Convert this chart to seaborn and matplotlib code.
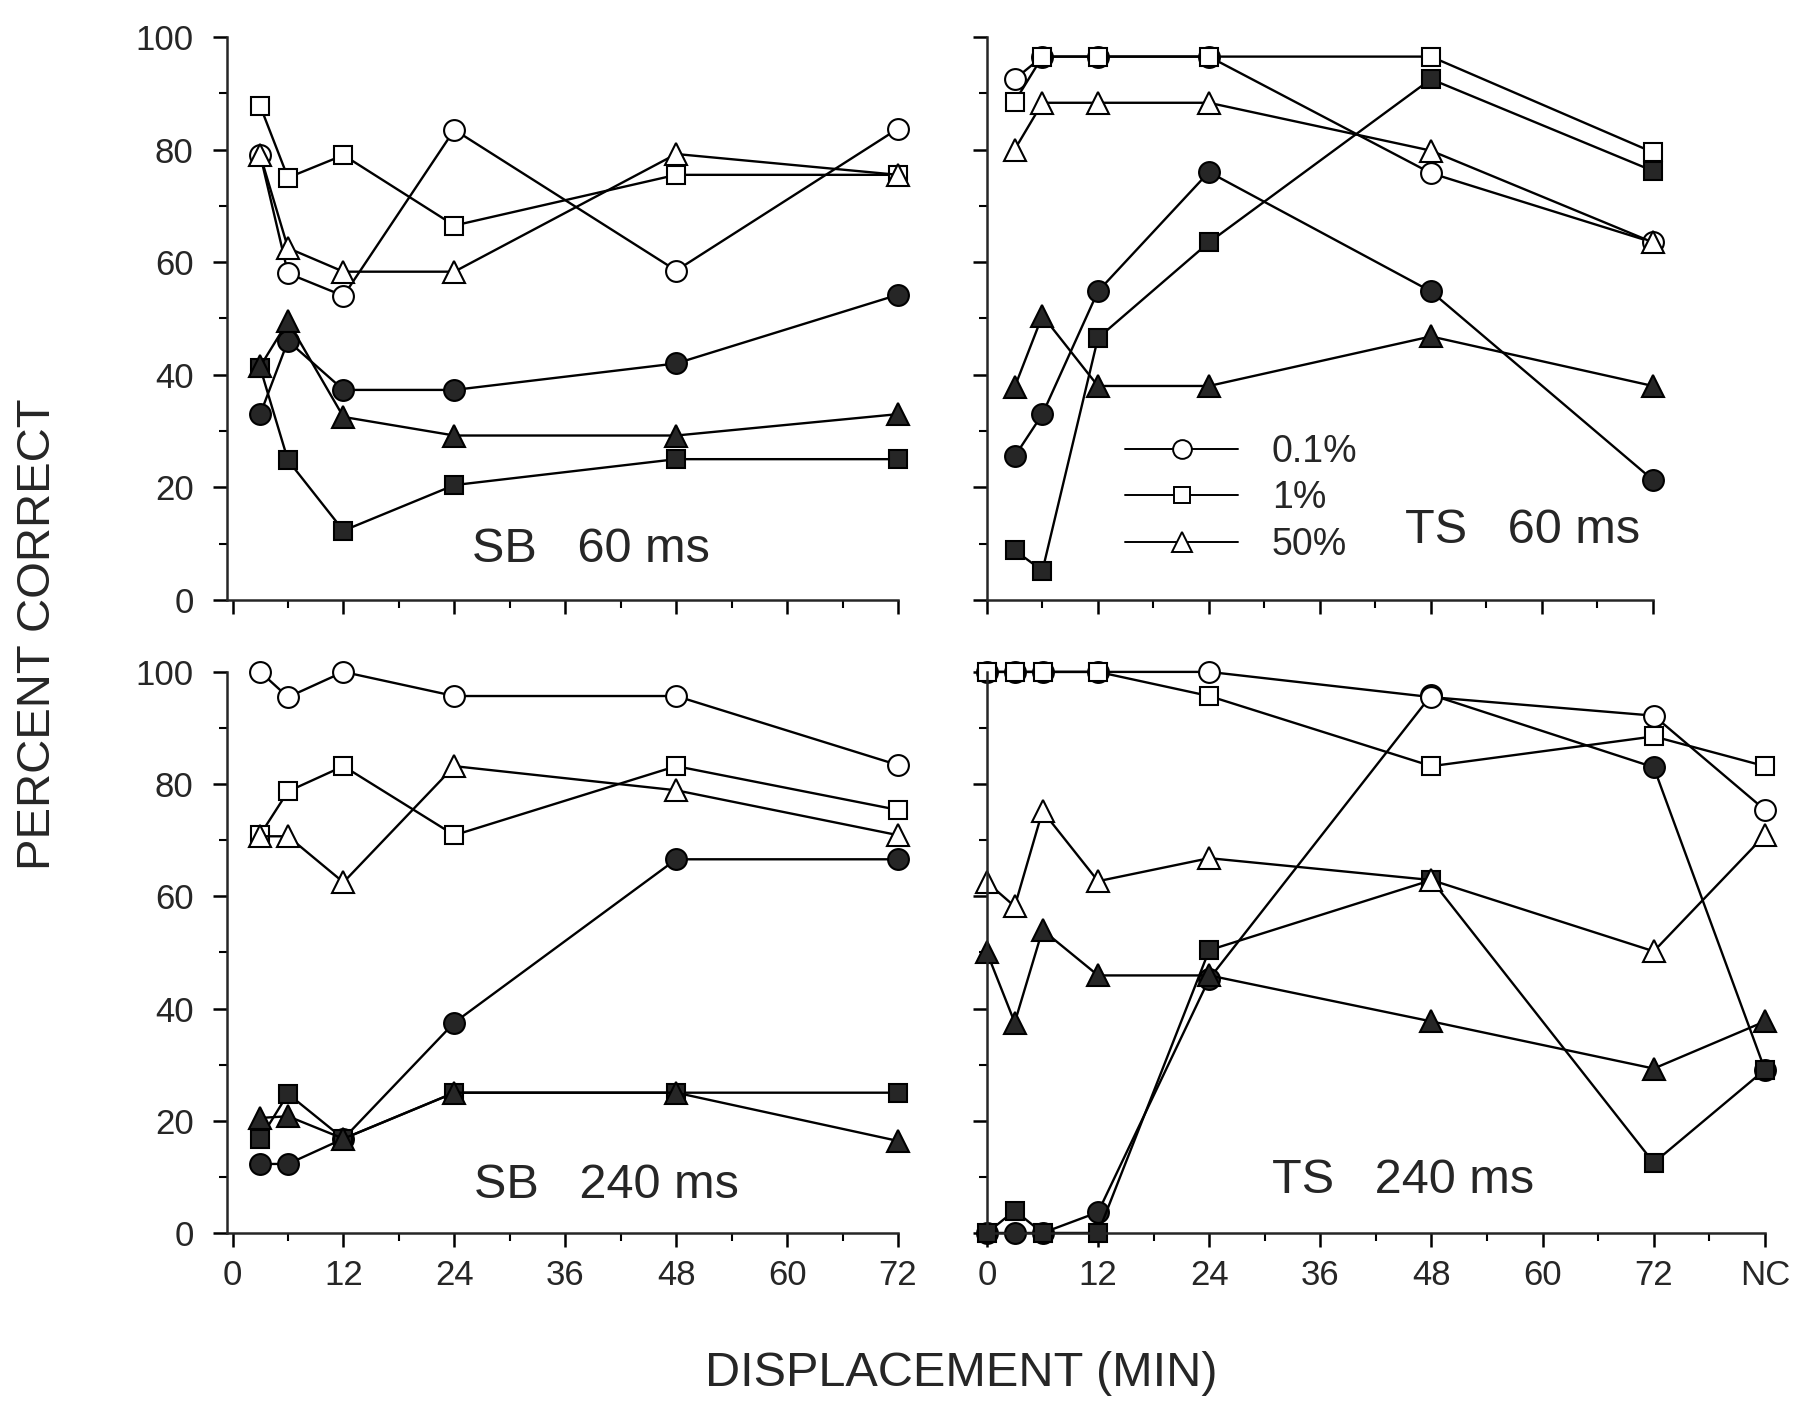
import matplotlib
matplotlib.use('Agg')
import matplotlib.pyplot as plt
import seaborn as sns
from matplotlib.ticker import MultipleLocator, FixedLocator
from matplotlib.lines import Line2D

sns.set_style('ticks')
plt.rcParams['font.family'] = ['Liberation Sans', 'DejaVu Sans']

# ---- data (percent correct) ----
x_sb = [3, 6, 12, 24, 48, 72]
x_ts60 = [3, 6, 12, 24, 48, 72]
x_ts240 = [0, 3, 6, 12, 24, 48, 72, 84]   # 84 = NC

# SB 60 ms
sb60_open_01 = [79, 58, 54, 83.5, 58.5, 83.7]
sb60_open_1 = [87.7, 75, 79, 66.5, 75.5, 75.5]
sb60_open_50 = [79, 62.5, 58.3, 58.3, 79.2, 75.5]
sb60_fill_01 = [33, 46, 37.3, 37.3, 42, 54.2]
sb60_fill_1 = [41.2, 24.8, 12.3, 20.4, 25, 25]
sb60_fill_50 = [41.5, 49.5, 32.5, 29.2, 29.2, 33]

# TS 60 ms
ts60_open_01 = [92.5, 96.5, 96.5, 96.5, 75.8, 63.5]
ts60_open_1 = [88.5, 96.5, 96.5, 96.5, 96.5, 79.5]
ts60_open_50 = [80, 88.3, 88.3, 88.3, 79.8, 63.5]
ts60_fill_01 = [25.5, 33, 54.8, 76, 54.8, 21.3]
ts60_fill_1 = [8.8, 5.2, 46.5, 63.5, 92.5, 76.2]
ts60_fill_50 = [37.8, 50.5, 38, 38, 46.8, 38]

# SB 240 ms
sb240_open_01 = [100, 95.5, 100, 95.7, 95.7, 83.4]
sb240_open_1 = [71, 78.7, 83.2, 70.9, 83.2, 75.4]
sb240_open_50 = [70.7, 70.7, 62.5, 83.2, 78.9, 70.9]
sb240_fill_01 = [12.3, 12.3, 16.8, 37.5, 66.6, 66.6]
sb240_fill_1 = [16.8, 24.8, 16.8, 25, 25, 25]
sb240_fill_50 = [20.5, 20.8, 16.8, 25, 25, 16.4]

# TS 240 ms
ts240_open_01 = [100, 100, 100, 100, 100, 95.5, 92.2, 75.4]
ts240_open_1 = [100, 100, 100, 100, 95.7, 83.2, 88.5, 83.2]
ts240_open_50 = [62.5, 58.2, 75.2, 62.7, 66.8, 62.9, 50.2, 70.9]
ts240_fill_01 = [0, 0, 0, 3.7, 45.3, 95.9, 83, 29.1]
ts240_fill_1 = [0, 4, 0, 0, 50.4, 62.9, 12.5, 29.1]
ts240_fill_50 = [50, 37.5, 54, 45.9, 45.9, 37.7, 29.3, 37.7]

legend_labels = ['0.1%', '1%', '50%']
y_ticks = [0, 20, 40, 60, 80, 100]
x_ticks_sb = [0, 12, 24, 36, 48, 60, 72]
x_ticks_ts = [0, 12, 24, 36, 48, 60, 72, 84]
x_labels_ts = ['0', '12', '24', '36', '48', '60', '72', 'NC']

MS = {'o': 15, 's': 12.5, '^': 16}
DARK = '#262626'


def draw_series(ax, x, y, marker, filled):
    sns.lineplot(x=x, y=y, ax=ax, color='black', lw=1.7, sort=False,
                 marker=marker, markersize=MS[marker],
                 markerfacecolor=DARK if filled else 'white',
                 markeredgecolor='black', markeredgewidth=1.5,
                 clip_on=False, legend=False, errorbar=None)


def draw_panel(ax, x, fills, opens):
    for y, m in zip(fills, ['o', 's', '^']):
        draw_series(ax, x, y, m, True)
    for y, m in zip(opens, ['o', 's', '^']):
        draw_series(ax, x, y, m, False)


def style_axes(ax, xmin, xmax, ylabels, xticks=None, xlabels=None):
    ax.set_xlim(xmin, xmax)
    ax.set_ylim(0, 100)
    sns.despine(ax=ax)
    for s in ['left', 'bottom']:
        ax.spines[s].set_linewidth(1.8)
    ax.yaxis.set_major_locator(FixedLocator(y_ticks))
    ax.yaxis.set_minor_locator(MultipleLocator(10))
    ax.xaxis.set_minor_locator(MultipleLocator(6))
    if xticks is not None:
        ax.set_xticks(xticks)
        ax.set_xticklabels(xlabels if xlabels else [str(t) for t in xticks])
    else:
        ax.xaxis.set_major_locator(MultipleLocator(12))
        ax.set_xticklabels([])
    if ylabels:
        ax.set_yticklabels([str(t) for t in y_ticks])
    else:
        ax.set_yticklabels([])
    ax.tick_params(axis='both', which='major', direction='out', length=10,
                   width=1.8, labelsize=25, color='black')
    ax.tick_params(axis='both', which='minor', direction='out', length=6,
                   width=1.5, color='black')
    ax.tick_params(axis='y', which='major', pad=14)
    ax.tick_params(axis='x', which='major', pad=9)
    ax.set_xlabel('')
    ax.set_ylabel('')


fig = plt.figure(figsize=(18, 14.03), dpi=100)
ax_sb60 = fig.add_axes([0.1261, 0.5724, 0.3728, 0.4013])
ax_ts60 = fig.add_axes([0.5483, 0.5724, 0.3700, 0.4013])
ax_sb240 = fig.add_axes([0.1261, 0.1212, 0.3728, 0.3999])
ax_ts240 = fig.add_axes([0.5483, 0.1212, 0.4322, 0.3999])

draw_panel(ax_sb60, x_sb, [sb60_fill_01, sb60_fill_1, sb60_fill_50],
           [sb60_open_01, sb60_open_1, sb60_open_50])
draw_panel(ax_ts60, x_ts60, [ts60_fill_01, ts60_fill_1, ts60_fill_50],
           [ts60_open_01, ts60_open_1, ts60_open_50])
draw_panel(ax_sb240, x_sb, [sb240_fill_01, sb240_fill_1, sb240_fill_50],
           [sb240_open_01, sb240_open_1, sb240_open_50])
draw_panel(ax_ts240, x_ts240, [ts240_fill_01, ts240_fill_1, ts240_fill_50],
           [ts240_open_01, ts240_open_1, ts240_open_50])

style_axes(ax_sb60, -0.6, 72, True)
style_axes(ax_ts60, 0, 72, False)
style_axes(ax_sb240, -0.6, 72, True, x_ticks_sb)
style_axes(ax_ts240, 0, 84, False, x_ticks_ts, x_labels_ts)

# panel labels
ax_sb60.text(38.8, 9, 'SB   60 ms', fontsize=35, ha='center', va='center')
ax_ts60.text(57.9, 12.4, 'TS   60 ms', fontsize=35, ha='center', va='center')
ax_sb240.text(40.5, 8.4, 'SB   240 ms', fontsize=35, ha='center', va='center')
ax_ts240.text(44.9, 9.4, 'TS   240 ms', fontsize=35, ha='center', va='center')

# legend (open symbols)
handles = [Line2D([], [], color='black', lw=1.4, marker=m, ms=MS[m] - 1.5,
                  mfc='white', mec='black', mew=1.4) for m in ['o', 's', '^']]
ax_ts60.legend(handles, legend_labels, loc='upper left',
               bbox_to_anchor=(0.208, 0.295), frameon=False, fontsize=27,
               handlelength=3.0, handletextpad=0.9, labelspacing=0.28,
               borderpad=0, borderaxespad=0)

fig.text(38 / 1800, 1 - 634 / 1403, 'PERCENT CORRECT', rotation=90,
         fontsize=34, ha='center', va='center')
fig.text(961 / 1800, 1 - 1374 / 1403, 'DISPLACEMENT (MIN)', fontsize=35,
         ha='center', va='center')

fig.savefig('out.png', dpi=100, facecolor='white')
